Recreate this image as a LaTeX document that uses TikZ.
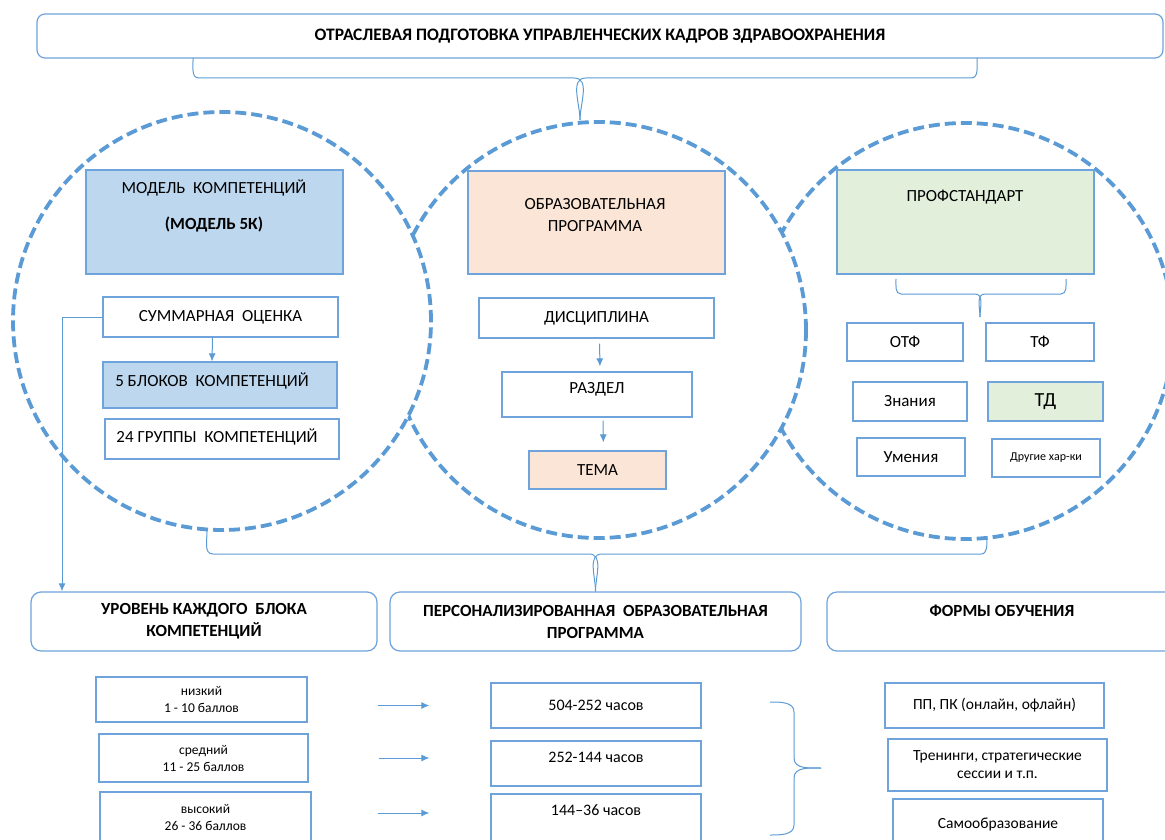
\documentclass[tikz,border=0pt]{standalone}
\usepackage{fontspec}
\setmainfont{Carlito}
\usetikzlibrary{arrows.meta}
\definecolor{dashblue}{HTML}{5B9BD5}
\definecolor{edgeblue}{HTML}{6FA3DB}
\definecolor{fillblue}{HTML}{BDD7EE}
\definecolor{fillpeach}{HTML}{FBE5D6}
\definecolor{fillgreen}{HTML}{E2EFDA}
\tikzset{
    wh/.style 2 args={minimum width=#1pt, minimum height=#2pt},
    circ/.style={circle, draw=dashblue, fill=white, line width=3.8pt, dash pattern=on 11pt off 5pt, inner sep=0pt},
    plainbox/.style={draw=edgeblue, line width=1.2pt, fill=white, inner sep=0pt, align=center, font=\fontsize{17}{22}\selectfont},
    bluebox/.style={plainbox, fill=fillblue},
    peachbox/.style={plainbox, fill=fillpeach},
    greenbox/.style={plainbox, fill=fillgreen},
    headbox/.style={plainbox, rounded corners=10pt, font=\bfseries\fontsize{17}{22}\selectfont},
    txt/.style={align=center, inner sep=0pt, font=\fontsize{17}{22}\selectfont},
    small/.style={font=\fontsize{13.5}{17}\selectfont},
    mid/.style={font=\fontsize{16}{18}\selectfont},
    conn/.style={draw=dashblue, line width=1pt},
    arr/.style={conn, -{Latex[length=8pt,width=7pt]}},
}
\begin{document}
\begin{tikzpicture}[x=1pt, y=-1pt]
\useasboundingbox (0,0) rectangle (1165,840);
% three circles, the left one lies on top
\node[circ, minimum size=416pt] (cright) at (965,331) {};
\node[circ, minimum size=416pt] (cmid) at (598,330) {};
\node[circ, minimum size=418pt] (cleft) at (222,321) {};
% title
\node[headbox, wh={1126}{44}, rounded corners=8pt, font=\bfseries\fontsize{17.5}{22}\selectfont] (title) at (600,36) {ОТРАСЛЕВАЯ ПОДГОТОВКА УПРАВЛЕНЧЕСКИХ КАДРОВ ЗДРАВООХРАНЕНИЯ};
\coordinate (tbl) at (193,58);
\coordinate (tbr) at (977,58);
\coordinate (tbm) at (580,78);
\draw[conn] (tbl) to[out=-88,in=180] (199,78) -- (574,78) to[out=0,in=90] (tbm |- cmid.north);
\draw[conn] (tbr) to[out=-92,in=0] (971,78) -- (586,78) to[out=180,in=90] (tbm |- cmid.north);
% left circle
\node[bluebox, wh={257}{104}] (model) at (214.5,222) {};
\node[txt] (modeltxt) at (214,206) {МОДЕЛЬ\ \ КОМПЕТЕНЦИЙ\\[14pt]\textbf{(МОДЕЛЬ 5К)}};
\node[plainbox, wh={235}{40}] (summ) at (220.5,317) {СУММАРНАЯ\ \ ОЦЕНКА};
\node[bluebox, wh={234}{46}] (bloki) at (220,385) {};
\node[txt] (blokitxt) at (212,381) {5 БЛОКОВ\ \ КОМПЕТЕНЦИЙ};
\node[plainbox, wh={234}{40}] (gruppy) at (222,439) {};
\node[txt] (gruppytxt) at (217,437) {24 ГРУППЫ\ \ КОМПЕТЕНЦИЙ};
\draw[arr] ([xshift=-8pt]summ.south) -- ([xshift=-8pt]bloki.north);
% middle circle
\node[peachbox, wh={257}{103}] (obr) at (596.5,222.5) {};
\node[txt] (obrtxt) at (595,215) {ОБРАЗОВАТЕЛЬНАЯ\\ПРОГРАММА};
\node[plainbox, wh={235}{40}] (disc) at (596.5,318) {ДИСЦИПЛИНА};
\node[plainbox, wh={190}{45}] (razdel) at (597,394.5) {};
\node[txt] (razdeltxt) at (597,389) {РАЗДЕЛ};
\node[peachbox, wh={137}{38}] (tema) at (597.5,470) {ТЕМА};
\draw[arr, shorten <=5pt, shorten >=5pt] ([xshift=3pt]disc.south) -- ([xshift=3pt]razdel.north);
\draw[arr, shorten <=3pt, shorten >=8pt] ([xshift=6pt]razdel.south) -- ([xshift=6pt]tema.north);
% right circle
\node[greenbox, wh={257}{104}] (prof) at (965.5,222) {};
\node[txt] (proftxt) at (965,197) {ПРОФСТАНДАРТ};
\coordinate (pbl) at (896,279);
\coordinate (pbr) at (1066,279);
\coordinate (pbs) at (980,317);
\draw[conn] (pbl) to[out=-90,in=180] (901,294) -- (975,294) to[out=0,in=90] (pbs);
\draw[conn] (pbr) to[out=-90,in=0] (1061,294) -- (985,294) to[out=180,in=90] (pbs);
\node[plainbox, wh={116}{38}] (otf) at (905,342) {ОТФ};
\node[plainbox, wh={108}{38}] (tf) at (1040,342) {ТФ};
\node[plainbox, wh={114}{39}] (znan) at (910,401.5) {Знания};
\node[greenbox, wh={115}{39}, font=\fontsize{20}{22}\selectfont] (td) at (1045.5,401.5) {ТД};
\node[plainbox, wh={108}{38}] (umen) at (911,457) {Умения};
\node[plainbox, wh={108}{38}, font=\fontsize{12}{14}\selectfont] (drug) at (1046,458) {Другие хар-ки};
% lower brace
\coordinate (bbl) at (207,530);
\coordinate (bbr) at (987,538);
% bottom row
\node[headbox, wh={346}{59}] (head1) at (204,621.5) {УРОВЕНЬ КАЖДОГО\ \ БЛОКА\\КОМПЕТЕНЦИЙ};
\node[headbox, wh={411}{59}] (head2) at (595.5,621.5) {ПЕРСОНАЛИЗИРОВАННАЯ\ \ ОБРАЗОВАТЕЛЬНАЯ\\ПРОГРАММА};
\node[headbox, wh={350}{59}] (head3) at (1002,621.5) {};
\node[txt, font=\bfseries\fontsize{17}{22}\selectfont] (head3txt) at (1002,611) {ФОРМЫ ОБУЧЕНИЯ};
\draw[conn] (bbl) to[out=-88,in=180] (213,554) -- (589,554) to[out=0,in=90] (head2.north);
\draw[conn] (bbr) to[out=-92,in=0] (981,554) -- (602,554) to[out=180,in=90] (head2.north);
\coordinate (kink) at (62,317);
\draw[arr] (summ.west) -- (kink) -- (kink |- head1.north);
% levels
\node[plainbox, small, wh={211}{45}] (niz) at (201.5,699.5) {низкий\\1 - 10 баллов};
\node[plainbox, small, wh={209}{48}] (sred) at (203.5,758) {средний\\11 - 25 баллов};
\node[plainbox, small, wh={211}{50}] (vys) at (205.5,817) {высокий\\26 - 36 баллов};
% hours
\node[plainbox, mid, wh={210}{45}] (h1) at (596,705.5) {504-252 часов};
\node[plainbox, wh={210}{45}] (h2) at (596,763.5) {};
\node[txt, mid] (h2txt) at (596,757) {252-144 часов};
\node[plainbox, wh={210}{50}] (h3) at (596,819) {};
\node[txt, mid] (h3txt) at (596,810) {144–36 часов};
\draw[arr, shorten <=70pt, shorten >=61pt] (niz.east |- h1.west) -- (h1.west);
\draw[arr, shorten <=70pt, shorten >=61pt] (sred.east) -- (sred.east -| h2.west);
\draw[arr, shorten <=66pt, shorten >=61pt] ([yshift=4pt]vys.east) -- ([yshift=4pt]vys.east -| h3.west);
% forms of study
\coordinate (rbt) at (770,702);
\coordinate (rbb) at (770,835);
\coordinate (rbm) at (821,768);
\draw[conn] (rbt) to[out=0,in=90] (794,712) -- (794,758) to[out=-90,in=180] (rbm);
\draw[conn] (rbb) to[out=0,in=-90] (794,825) -- (794,778) to[out=90,in=180] (rbm);
\node[plainbox, wh={219}{45}, font=\fontsize{15.5}{18}\selectfont] (pp) at (994.5,705.5) {ПП, ПК (онлайн, офлайн)};
\node[plainbox, wh={219}{52}, font=\fontsize{15.5}{18}\selectfont] (tren) at (997.5,765) {Тренинги, стратегические\\сессии и т.п.};
\node[plainbox, wh={210}{50}, font=\fontsize{15.5}{18}\selectfont] (samo) at (998,824) {Самообразование};
\end{tikzpicture}
\end{document}
